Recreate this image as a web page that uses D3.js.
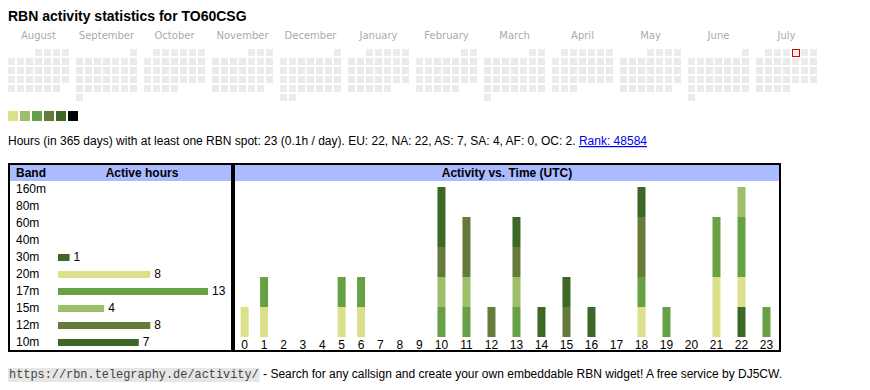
<!DOCTYPE html>
<html>
<head>
<meta charset="utf-8">
<script src="https://cdn.jsdelivr.net/npm/d3@7"></script>
<style>
  body { margin: 0; background: #fff; }
  svg { display: block; font-family: "Liberation Sans", Arial, sans-serif; }
</style>
</head>
<body>
<div id="chart"></div>
<script>
// ---- data ----
const callsign = "TO60CSG";
const monthNames = ["August", "September", "October", "November", "December", "January",
  "February", "March", "April", "May", "June", "July"];
const firstMonth = new Date(2024, 7, 1);
const today = new Date(2025, 6, 4);
const legendColors = ["#dbe18a", "#9dbf69", "#68a046", "#667a3a", "#3c6727", "#000000"];

const bands = ["160m", "80m", "60m", "40m", "30m", "20m", "17m", "15m", "12m", "10m"];
const bandHours = [0, 0, 0, 0, 1, 8, 13, 4, 8, 7];
const bandColors = ["#3c6727", "#3c6727", "#3c6727", "#3c6727", "#3c6727",
  "#dbe18a", "#68a046", "#9dbf69", "#667a3a", "#3c6727"];

const hourLabels = d3.range(24).map(String);
// hours (UTC) per band, stacked bottom -> top
const stackKeys = ["30m", "20m", "17m", "15m", "12m", "10m"];
const h30 = [0,0,0,0,0,0,0,0,0,0,0,0,0,0,0,0,0,0,0,0,0,0,1,0];
const h20 = [1,1,0,0,0,1,1,0,0,0,0,0,0,0,0,0,0,0,1,0,0,2,1,0];
const h17 = [0,1,0,0,0,1,1,0,0,0,1,1,0,1,0,0,0,0,1,1,0,2,2,1];
const h15 = [0,0,0,0,0,0,0,0,0,0,1,1,0,1,0,0,0,0,0,0,0,0,1,0];
const h12 = [0,0,0,0,0,0,0,0,0,0,1,2,1,1,0,1,0,0,2,0,0,0,0,0];
const h10 = [0,0,0,0,0,0,0,0,0,0,2,0,0,1,1,1,1,0,1,0,0,0,0,0];

const summaryText = "Hours (in 365 days) with at least one RBN spot: 23 (0.1h / day). EU: 22, NA: 22, AS: 7, SA: 4, AF: 0, OC: 2. ";
const rankText = "Rank: 48584";
const urlText = "https://rbn.telegraphy.de/activity/";
const footerText = " - Search for any callsign and create your own embeddable RBN widget! A free service by DJ5CW.";

// ---- drawing ----
const width = 870, height = 390;
const svg = d3.select("#chart").append("svg")
  .attr("width", width)
  .attr("height", height);

svg.append("text")
  .attr("x", 8).attr("y", 21)
  .attr("font-size", 14).attr("font-weight", "bold")
  .text("RBN activity statistics for " + callsign);

// calendar: one 7-column block per month, rows = weeks (Mon first)
const cell = 7, pitch = 9, monthW = 68, calLeft = 8, calTop = 49;
const cal = svg.append("g");
const monthStarts = d3.timeMonth.range(firstMonth, d3.timeMonth.offset(firstMonth, 12));
const monthX = d3.scaleBand().domain(d3.range(12)).range([calLeft, calLeft + 12 * monthW]);

cal.selectAll("text.month")
  .data(monthNames)
  .join("text")
  .attr("class", "month")
  .attr("x", (d, i) => monthX(i) + (7 * pitch - 2) / 2)
  .attr("y", 39)
  .attr("text-anchor", "middle")
  .attr("font-family", "DejaVu Sans, Verdana, sans-serif")
  .attr("font-size", 10)
  .attr("fill", "#aaaaaa")
  .text(d => d);

const days = [];
monthStarts.forEach((m, i) => {
  const offset = (m.getDay() + 6) % 7;
  d3.timeDay.range(m, d3.timeMonth.offset(m, 1)).forEach(d => {
    const k = d.getDate() - 1 + offset;
    days.push({ date: d, month: i, col: k % 7, row: Math.floor(k / 7) });
  });
});

cal.selectAll("rect.day")
  .data(days)
  .join("rect")
  .attr("class", "day")
  .attr("x", d => monthX(d.month) + d.col * pitch)
  .attr("y", d => calTop + d.row * pitch)
  .attr("width", cell).attr("height", cell)
  .attr("fill", "#ebebeb");

const t = days.find(d => +d.date === +today);
cal.append("rect")
  .attr("x", monthX(t.month) + t.col * pitch + 0.5)
  .attr("y", calTop + t.row * pitch + 0.5)
  .attr("width", cell).attr("height", cell)
  .attr("fill", "#f4f4f4")
  .attr("stroke", "#e00000").attr("stroke-width", 1);

svg.selectAll("rect.legend")
  .data(legendColors)
  .join("rect")
  .attr("class", "legend")
  .attr("x", (d, i) => 8 + i * 12)
  .attr("y", 111)
  .attr("width", 10).attr("height", 10)
  .attr("fill", d => d);

const summary = svg.append("text")
  .attr("x", 8).attr("y", 145)
  .attr("font-size", 12);
summary.append("tspan").text(summaryText);
summary.append("tspan")
  .attr("fill", "#0000ee")
  .attr("text-decoration", "underline")
  .text(rankText);

// ---- band table ----
const boxTop = 163, boxBottom = 352;
const left = svg.append("g");
left.append("rect")
  .attr("x", 9).attr("y", boxTop + 1)
  .attr("width", 223).attr("height", boxBottom - boxTop - 2)
  .attr("fill", "none").attr("stroke", "#000").attr("stroke-width", 2);
left.append("rect")
  .attr("x", 10).attr("y", 165)
  .attr("width", 221).attr("height", 16)
  .attr("fill", "#aabbff");
left.append("text").attr("x", 16).attr("y", 177)
  .attr("font-size", 12).attr("font-weight", "bold").text("Band");
left.append("text").attr("x", 142).attr("y", 177)
  .attr("text-anchor", "middle")
  .attr("font-size", 12).attr("font-weight", "bold").text("Active hours");

const rowY = d3.scalePoint().domain(bands).range([193, 346]);
const barX = d3.scaleLinear().domain([0, d3.max(bandHours)]).range([58, 208]);
const rows = left.selectAll("g.row")
  .data(bands.map((b, i) => ({ band: b, hours: bandHours[i], color: bandColors[i] })))
  .join("g")
  .attr("class", "row")
  .attr("transform", d => `translate(0,${rowY(d.band)})`);
rows.append("text")
  .attr("x", 16).attr("font-size", 12)
  .text(d => d.band);
rows.filter(d => d.hours > 0).append("rect")
  .attr("x", barX(0)).attr("y", -7)
  .attr("width", d => barX(d.hours) - barX(0)).attr("height", 7)
  .attr("fill", d => d.color);
rows.filter(d => d.hours > 0).append("text")
  .attr("x", d => barX(d.hours) + 4)
  .attr("font-size", 12)
  .text(d => d.hours);

// ---- activity vs time ----
const right = svg.append("g");
right.append("rect")
  .attr("x", 234).attr("y", boxTop + 1)
  .attr("width", 546).attr("height", boxBottom - boxTop - 2)
  .attr("fill", "none").attr("stroke", "#000").attr("stroke-width", 2);
right.append("rect")
  .attr("x", 235).attr("y", 165)
  .attr("width", 544).attr("height", 16)
  .attr("fill", "#aabbff");
right.append("text").attr("x", 507).attr("y", 177)
  .attr("text-anchor", "middle")
  .attr("font-size", 12).attr("font-weight", "bold").text("Activity vs. Time (UTC)");

// table-like columns: width follows the label length
const colRaw = hourLabels.map(l => 15 + 6.1 * l.length);
const colScale = 544 / d3.sum(colRaw);
const centers = [];
let acc = 235;
colRaw.forEach(w => { centers.push(acc + w * colScale / 2); acc += w * colScale; });
const hourX = d3.scaleOrdinal().domain(hourLabels).range(centers);

const table = hourLabels.map((h, i) => ({
  hour: h, "30m": h30[i], "20m": h20[i], "17m": h17[i], "15m": h15[i], "12m": h12[i], "10m": h10[i]
}));
const series = d3.stack().keys(stackKeys)(table);
const maxTotal = d3.max(series[series.length - 1], d => d[1]);
const y = d3.scaleLinear().domain([0, maxTotal]).range([337, 187]);
const keyColor = d3.scaleOrdinal().domain(bands).range(bandColors);

right.selectAll("g.layer")
  .data(series)
  .join("g")
  .attr("class", "layer")
  .attr("fill", d => keyColor(d.key))
  .selectAll("rect")
  .data(d => d.filter(s => s[1] > s[0]))
  .join("rect")
  .attr("x", d => hourX(d.data.hour) - 4)
  .attr("y", d => y(d[1]))
  .attr("width", 8)
  .attr("height", d => y(d[0]) - y(d[1]));

right.selectAll("text.hour")
  .data(hourLabels)
  .join("text")
  .attr("class", "hour")
  .attr("x", d => hourX(d))
  .attr("y", 349)
  .attr("text-anchor", "middle")
  .attr("font-size", 12)
  .text(d => d);

// ---- footer ----
const foot = svg.append("g");
const urlEl = foot.append("text")
  .attr("x", 9).attr("y", 378)
  .attr("font-family", "Liberation Mono, Courier New, monospace")
  .attr("font-size", 11.9)
  .attr("fill", "#444")
  .text(urlText);
const ub = urlEl.node().getBBox();
foot.insert("rect", "text")
  .attr("x", 8).attr("y", 368)
  .attr("width", ub.width + 2).attr("height", 14)
  .attr("fill", "#e6e6e6");
foot.append("text")
  .attr("x", 9 + ub.width + 1).attr("y", 378)
  .attr("font-size", 12)
  .style("white-space", "pre")
  .text(footerText);
</script>
</body>
</html>
